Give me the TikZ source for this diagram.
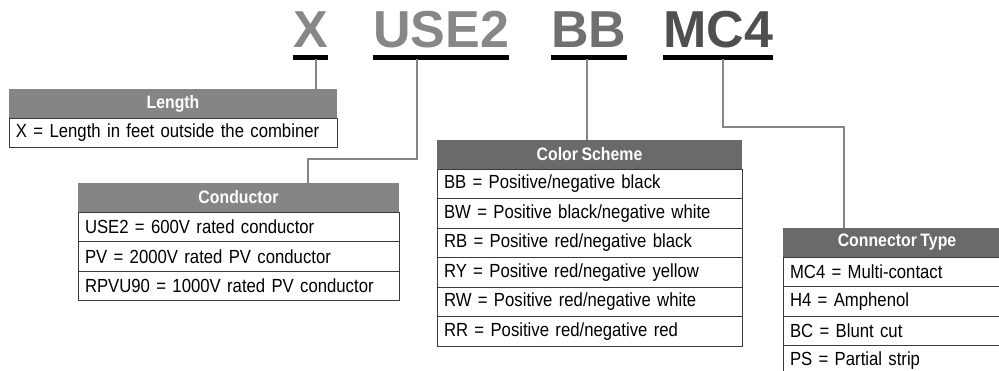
\documentclass[tikz,border=0pt]{standalone}
\usepackage{fontspec}
\setmainfont{Liberation Sans}[FakeStretch=0.88, WordSpace=0.8]
\newfontfamily\codefont{Liberation Sans}
\usetikzlibrary{positioning}
\definecolor{cdLight}{HTML}{878787}
\definecolor{cdMid}{HTML}{707070}
\definecolor{cdDark}{HTML}{4F4F4F}
\definecolor{cdHead}{HTML}{858585}
\definecolor{cdHeadDark}{HTML}{6A6A6A}
\definecolor{cdBorder}{HTML}{3A3A3A}
\definecolor{cdLink}{HTML}{858585}

\begin{document}
\begin{tikzpicture}[
    x=1pt, y=-1pt,
    node distance=0pt,
    code/.style={font=\codefont\fontsize{52}{52}\selectfont\bfseries, inner sep=0pt, anchor=base west},
    uline/.style={line width=5pt, black},
    hdr/.style={fill=#1, text=white, font=\fontsize{18}{20}\selectfont\bfseries, minimum height=29pt, inner sep=0pt, outer sep=0pt, anchor=north west},
    row/.style={draw=cdBorder, line width=1pt, align=left, font=\fontsize{19}{21}\selectfont, minimum height=29.5pt, inner xsep=7pt, inner ysep=0pt, outer sep=0pt, text width=#1},
    link/.style={draw=cdLink, line width=2.2pt}
]
    \clip (0,0) rectangle (999,370);

    % part code
    \node[code, text=cdLight] (wx) at (293,47) {X};
    \node[code, text=cdLight] (wuse) at (373,47) {USE2};
    \node[code, text=cdMid] (wbb) at (551,47) {BB};
    \node[code, text=cdDark] (wmc) at (663,47) {MC4};
    \draw[uline] ([yshift=-10.5pt]wx.base west) -- ([yshift=-10.5pt]wx.base east);
    \draw[uline] ([yshift=-10.5pt]wuse.base west) -- ([yshift=-10.5pt]wuse.base east);
    \draw[uline] ([yshift=-10.5pt]wbb.base west) -- ([yshift=-10.5pt]wbb.base east);
    \draw[uline] ([yshift=-10.5pt]wmc.base west) -- ([yshift=-10.5pt]wmc.base east);

    % Length
    \node[hdr=cdHead, minimum width=328pt] (lenhdr) at (9,89) {Length};
    \node[row=314pt, below=of lenhdr] (len1) {X = Length in feet outside the combiner};

    % Conductor
    \node[hdr=cdHead, minimum width=321pt] (condhdr) at (78,183) {Conductor};
    \node[row=307pt, below=of condhdr] (cond1) {USE2 = 600V rated conductor};
    \node[row=307pt, below=of cond1] (cond2) {PV = 2000V rated PV conductor};
    \node[row=307pt, below=of cond2] (cond3) {RPVU90 = 1000V rated PV conductor};

    % Color Scheme
    \node[hdr=cdHeadDark, minimum width=305pt] (colhdr) at (437,140) {Color Scheme};
    \node[row=291pt, below=of colhdr] (col1) {BB = Positive/negative black};
    \node[row=291pt, below=of col1] (col2) {BW = Positive black/negative white};
    \node[row=291pt, below=of col2] (col3) {RB = Positive red/negative black};
    \node[row=291pt, below=of col3] (col4) {RY = Positive red/negative yellow};
    \node[row=291pt, below=of col4] (col5) {RW = Positive red/negative white};
    \node[row=291pt, below=of col5] (col6) {RR = Positive red/negative red};

    % Connector Type
    \node[hdr=cdHeadDark, minimum width=228pt] (conhdr) at (783,228) {Connector Type};
    \node[row=214pt, below=of conhdr] (con1) {MC4 = Multi-contact};
    \node[row=214pt, below=of con1] (con2) {H4 = Amphenol};
    \node[row=214pt, below=of con2] (con3) {BC = Blunt cut};
    \node[row=214pt, below=of con3] (con4) {PS = Partial strip};

    % links
    \coordinate (xtap) at (316,59);
    \coordinate (usetap) at (417,59);
    \coordinate (bbtap) at (587,59);
    \coordinate (mctap) at (723,59);
    \coordinate (condbend) at (308,159);
    \coordinate (conbend) at (844,127);
    \draw[link] (xtap) -- (xtap |- lenhdr.north);
    \draw[link] (usetap) |- (condbend) -- (condbend |- condhdr.north);
    \draw[link] (bbtap) -- (bbtap |- colhdr.north);
    \draw[link] (mctap) |- (conbend) -- (conbend |- conhdr.north);
\end{tikzpicture}
\end{document}
